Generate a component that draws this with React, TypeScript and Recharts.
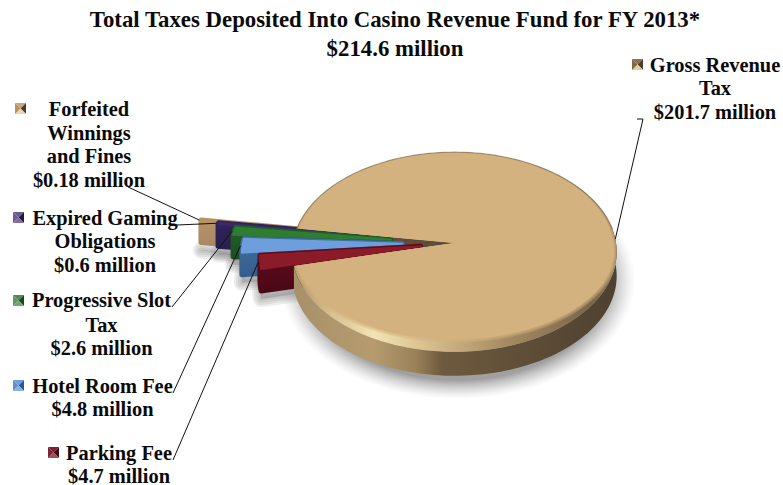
import React from "react";
import { PieChart, Pie } from "recharts";

const categories = ["Forfeited Winnings and Fines", "Expired Gaming Obligations", "Progressive Slot Tax", "Hotel Room Fee", "Parking Fee", "Gross Revenue Tax"];
const values = [0.18, 0.6, 2.6, 4.8, 4.7, 201.7];
const labelLines = [
  ["Forfeited", "Winnings", "and Fines", "$0.18 million"],
  ["Expired Gaming", "Obligations", "$0.6 million"],
  ["Progressive Slot", "Tax", "$2.6 million"],
  ["Hotel Room Fee", "$4.8 million"],
  ["Parking Fee", "$4.7 million"],
  ["Gross Revenue", "Tax", "$201.7 million"],
];
const titleLines = ["Total Taxes Deposited Into Casino Revenue Fund for FY 2013*", "$214.6 million"];

const data = categories.map((name, i) => ({ name, value: values[i] }));

// Presentation (not data)
const FONT = "'Liberation Serif', 'Times New Roman', serif";
const CX = 454.5, CY = 243, R = 161.5, K = 99, P = 0.09, DEPTH = 24;
const START = 171.5;
const explode = [102, 83, 64, 52, 34, 0];
const topColor = ["#B8955F", "#3A2A66", "#2F7D33", "#6E9FDC", "#8C1B2A", "#D4B27F"];
const sideTop = ["#B5946A", "#30245A", "#24622A", "#4478AE", "#6A1020", "#A48A60"];
const sideBottom = ["#8A7050", "#1E1638", "#123C18", "#2F5480", "#4A0716", "#4E4130"];
const labelPos = [
  { x: 89, y: 116, lh: [0, 24, 47, 71], sw: [15, 103], line: [[128, 187]] },
  { x: 105, y: 225, lh: [0, 23, 47], sw: [13, 212], line: [[177, 225]] },
  { x: 101.5, y: 307, lh: [0, 25, 48], sw: [13, 295], line: [[172, 307]] },
  { x: 102.5, y: 393, lh: [0, 23], sw: [13, 380], line: [[173, 393]] },
  { x: 119, y: 460, lh: [0, 23], sw: [48, 447], line: [[173, 460]] },
  { x: 715, y: 72, lh: [0, 23, 47], sw: [632, 59], line: [[643, 119], [637, 119]] },
];
const swatch = [
  ["#C9A877", "#4D3C2A", "#F0D6A8", "#B8935F"],
  ["#6B5A8A", "#221A3D", "#7D6DA0", "#6F5C93"],
  ["#4F8A4F", "#1A4A1A", "#6EAA6E", "#5D9A5D"],
  ["#6F9FD8", "#2D5A8C", "#8AB4E0", "#5F90C8"],
  ["#7A2030", "#3F0A14", "#A04C5C", "#7A2535"],
  ["#8A7350", "#4C3D2A", "#E5CFA0", "#7F6A48"],
];
const softWidths = [16, 12, 8, 4];
const bevelWidths = [7, 5, 3, 1.5];

type Pt = [number, number];
const proj = (a: number, r: number, e: number, mid: number, cx: number, cy: number): Pt => {
  const rad = (a * Math.PI) / 180, m = (mid * Math.PI) / 180;
  const u = (r * Math.cos(rad) + e * Math.cos(m)) / R;
  const v = (-r * Math.sin(rad) - e * Math.sin(m)) / R;
  const w = 1 - P * v;
  return [cx + (R * u) / w, cy + (K * v) / w];
};
const outline = (s: number, en: number, r: number, e: number, cx: number, cy: number): Pt[] => {
  const mid = (s + en) / 2;
  const pts: Pt[] = [proj(0, 0, e, mid, cx, cy)];
  const n = Math.max(2, Math.ceil((en - s) / 1.5));
  for (let i = 0; i <= n; i++) pts.push(proj(s + ((en - s) * i) / n, r, e, mid, cx, cy));
  return pts;
};
const toD = (pts: Pt[], dy = 0, closed = true) =>
  pts.map((p, i) => `${i ? "L" : "M"}${p[0].toFixed(2)} ${(p[1] + dy).toFixed(2)}`).join("") + (closed ? "Z" : "");
const extruded = (pts: Pt[], depth: number) => {
  let d = "";
  for (let k = 0; k <= depth; k++) d += toD(pts, k);
  return d;
};

const Defs = () => (
  <defs>
    <radialGradient id="bigShadow">
      <stop offset="0.84" stopColor="#808080" stopOpacity="0.75" />
      <stop offset="0.92" stopColor="#A0A0A0" stopOpacity="0.4" />
      <stop offset="1" stopColor="#C0C0C0" stopOpacity="0" />
    </radialGradient>
    <linearGradient id="bigSide" gradientUnits="userSpaceOnUse" x1="293" y1="0" x2="616" y2="0">
      <stop offset="0" stopColor="#A8906A" />
      <stop offset="0.25" stopColor="#B59B6E" />
      <stop offset="0.38" stopColor="#9A8158" />
      <stop offset="0.46" stopColor="#6E5A3E" />
      <stop offset="1" stopColor="#4E4130" />
    </linearGradient>
    <linearGradient id="bigRing" gradientUnits="userSpaceOnUse" x1="293" y1="0" x2="616" y2="0">
      <stop offset="0" stopColor="#B09468" />
      <stop offset="0.12" stopColor="#D8C090" />
      <stop offset="0.25" stopColor="#F3E3B4" />
      <stop offset="0.42" stopColor="#D8BE8C" />
      <stop offset="0.65" stopColor="#A78D63" />
      <stop offset="0.92" stopColor="#7A664A" />
      <stop offset="1" stopColor="#8F7A5A" />
    </linearGradient>
    {topColor.slice(0, 5).map((_, i) => (
      <linearGradient key={i} id={`side${i}`} gradientUnits="userSpaceOnUse" x1="0" y1="220" x2="0" y2="295">
        <stop offset="0" stopColor={sideTop[i]} />
        <stop offset="1" stopColor={sideBottom[i]} />
      </linearGradient>
    ))}
  </defs>
);

const SliceShape = (props: any) => {
  const { cx, cy, startAngle, endAngle, outerRadius } = props;
  const idx = categories.indexOf(props.name);
  if (idx === 5) {
    const pts = outline(startAngle, endAngle, outerRadius, 0, cx, cy);
    const inner = pts.map((p): Pt => {
      const dy = p[1] - cy;
      return [cx + (p[0] - cx) * 0.985, cy + (dy > 0 ? dy * 0.885 : dy)];
    });
    const front: Pt[] = [];
    for (let a = startAngle; a <= 372; a += 2) front.push(proj(a, outerRadius, 0, 0, cx, cy));
    const frontBand = toD([...front, ...front.map((p): Pt => [p[0], p[1] + DEPTH]).reverse()]);
    const upper: Pt[] = [];
    for (let a = 8; a <= 172; a += 2) upper.push(proj(a, outerRadius, 0, 0, cx, cy));
    return (
      <g>
        <path d={frontBand} fill="url(#bigSide)" />
        <path d={toD(pts)} fill="url(#bigRing)" />
        <clipPath id="bigClip"><path d={toD(pts)} /></clipPath>
        <g clipPath="url(#bigClip)">
          {bevelWidths.map((w) => (
            <path key={w} d={toD(inner)} fill="none" stroke={topColor[5]} strokeWidth={w} strokeOpacity={0.3} strokeLinejoin="round" />
          ))}
          <path d={toD(inner)} fill={topColor[5]} />
        </g>
        <path d={toD(upper, 0, false)} fill="none" stroke="#75664E" strokeWidth={1.2} opacity={0.6} />
      </g>
    );
  }
  const pts = outline(startAngle, endAngle, outerRadius - 2, explode[idx], cx, cy);
  return (
    <g>
      {idx === 0 && (
        <g>
          <Defs />
          <ellipse cx={cx + 3} cy={cy + 38} rx={178} ry={118} fill="url(#bigShadow)" />
          <path d={extruded(outline(startAngle, startAngle + 0.01, outerRadius, 0, cx, cy), DEPTH)} fill="#5E4A3A" stroke="#5E4A3A" />
        </g>
      )}
      {softWidths.map((w) => (
        <path key={w} d={toD(pts, DEPTH + 6)} fill="none" stroke="#8C8C8C" strokeWidth={w} strokeOpacity={0.16} strokeLinejoin="round" />
      ))}
      <path d={toD(pts, DEPTH + 6)} fill="#8C8C8C" fillOpacity={0.5} />
      <path d={extruded(pts, DEPTH - 2)} fill={`url(#side${idx})`} stroke={`url(#side${idx})`} strokeWidth={5} strokeLinejoin="round" />
      <path d={toD(pts)} fill={topColor[idx]} stroke={topColor[idx]} strokeWidth={2} strokeLinejoin="round" />
    </g>
  );
};

const SliceLabel = (props: any) => {
  const { cx, cy, midAngle, outerRadius, index } = props;
  const pos = labelPos[index];
  const a = proj(midAngle, outerRadius, explode[index], midAngle, cx, cy);
  const poly = [a, ...pos.line].map((p) => p.join(",")).join(" ");
  const [sx, sy] = pos.sw;
  const s = 11, c = s / 2, [t, r, b, l] = swatch[index];
  return (
    <g>
      <polyline points={poly} fill="none" stroke="#111" strokeWidth={1} />
      <g transform={`translate(${sx},${sy})`}>
        <polygon points={`0,0 ${s},0 ${c},${c}`} fill={t} />
        <polygon points={`${s},0 ${s},${s} ${c},${c}`} fill={r} />
        <polygon points={`0,${s} ${s},${s} ${c},${c}`} fill={b} />
        <polygon points={`0,0 0,${s} ${c},${c}`} fill={l} />
      </g>
      {labelLines[index].map((line, i) => (
        <text key={line} x={pos.x} y={pos.y + pos.lh[i]} textAnchor="middle" fontFamily={FONT} fontWeight="bold" fontSize={20.4} fill="#0A0A0A">
          {line}
        </text>
      ))}
    </g>
  );
};

export default function App() {
  return (
    <div style={{ position: "absolute", left: 0, top: 0, width: 783, height: 485, background: "#fff" }}>
      <PieChart width={783} height={485} margin={{ top: 0, right: 0, bottom: 0, left: 0 }}>
        <text x={395} y={27} textAnchor="middle" fontFamily={FONT} fontWeight="bold" fontSize={22.8} fill="#0A0A0A">{titleLines[0]}</text>
        <text x={395} y={56} textAnchor="middle" fontFamily={FONT} fontWeight="bold" fontSize={22.8} fill="#0A0A0A">{titleLines[1]}</text>
        <Pie
          data={data}
          dataKey="value"
          nameKey="name"
          cx={CX}
          cy={CY}
          innerRadius={0}
          outerRadius={R}
          startAngle={START}
          endAngle={START + 360}
          paddingAngle={0}
          stroke="none"
          isAnimationActive={false}
          shape={SliceShape}
          label={SliceLabel}
          labelLine={false}
        />
      </PieChart>
    </div>
  );
}
